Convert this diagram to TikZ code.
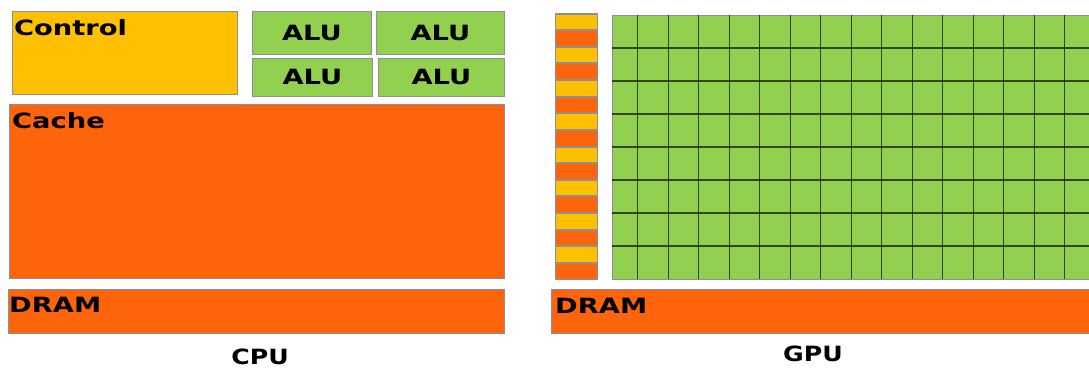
\documentclass[tikz,border=0pt]{standalone}
\usepackage{fontspec}
\setmainfont{DejaVu Sans}
\usetikzlibrary{positioning}
\definecolor{ctrlyellow}{HTML}{FFC000}
\definecolor{memorange}{HTML}{FE640B}
\definecolor{alugreen}{HTML}{92D050}
\definecolor{edgegray}{HTML}{8E8E98}
\newcommand{\wide}[1]{\scalebox{1.3}[1]{#1}}

\begin{document}
\begin{tikzpicture}[x=1pt, y=-1pt,
    blk/.style={draw=edgegray, line width=0.9pt, anchor=north west, inner sep=0pt},
    lbl/.style={inner sep=0pt, anchor=base west, font=\fontsize{21}{24}\bfseries\selectfont},
    alu/.style={blk, fill=alugreen, font=\fontsize{21}{24}\bfseries\selectfont},
    gridline/.style={black, opacity=0.65, line width=1.3pt}]
    \useasboundingbox (0,0) rectangle (1089,367);

    % 1. CPU
    \node[blk, fill=ctrlyellow, minimum width=225, minimum height=83] (control) at (12,11) {};
    \node[lbl] (controltxt) at (14,35) {\wide{Control}};
    \node[alu, minimum width=119, minimum height=43] (alu1) at (252,11) {\wide{ALU}};
    \node[alu, minimum width=128, minimum height=43] (alu2) at (376,11) {\wide{ALU}};
    \node[alu, minimum width=120, minimum height=38] (alu3) at (252,58) {\wide{ALU}};
    \node[alu, minimum width=126, minimum height=38] (alu4) at (378,58) {\wide{ALU}};
    \node[blk, fill=memorange, minimum width=495, minimum height=174] (cache) at (9,104) {};
    \node[lbl] (cachetxt) at (12,128) {\wide{Cache}};
    \node[blk, fill=memorange, minimum width=496, minimum height=44] (cpudram) at (8,289) {};
    \node[lbl] (cpudramtxt) at (9,312) {\wide{DRAM}};
    \node[lbl, anchor=base] (cpulabel) at (260,364) {\scalebox{1.2}[1]{CPU}};

    % 2. GPU: control/cache column
    \foreach \i in {0,...,15} {
        \pgfmathsetmacro{\yy}{13.4+16.625*\i}
        \ifodd\i \def\cc{memorange}\else \def\cc{ctrlyellow}\fi
        \node[blk, fill=\cc, line width=1.1pt, minimum width=42, minimum height=15.8] (cell\i) at (554.5,\yy) {};
    }

    % 3. GPU: ALU grid
    \node[blk, fill=alugreen, minimum width=490, minimum height=264] (gpugrid) at (612,15) {};
    \foreach \r in {1,...,7} {
        \draw[gridline] (612,15+33*\r) -- (1102,15+33*\r);
    }
    \foreach \c in {0,...,14} {
        \draw[gridline] (637.7+30.5*\c,15) -- (637.7+30.5*\c,279);
    }

    % 4. GPU DRAM
    \node[blk, fill=memorange, minimum width=550, minimum height=44] (gpudram) at (551,289) {};
    \node[lbl] (gpudramtxt) at (555,313) {\wide{DRAM}};
    \node[lbl, anchor=base] (gpulabel) at (813,361) {\scalebox{1.2}[1]{GPU}};
\end{tikzpicture}
\end{document}
